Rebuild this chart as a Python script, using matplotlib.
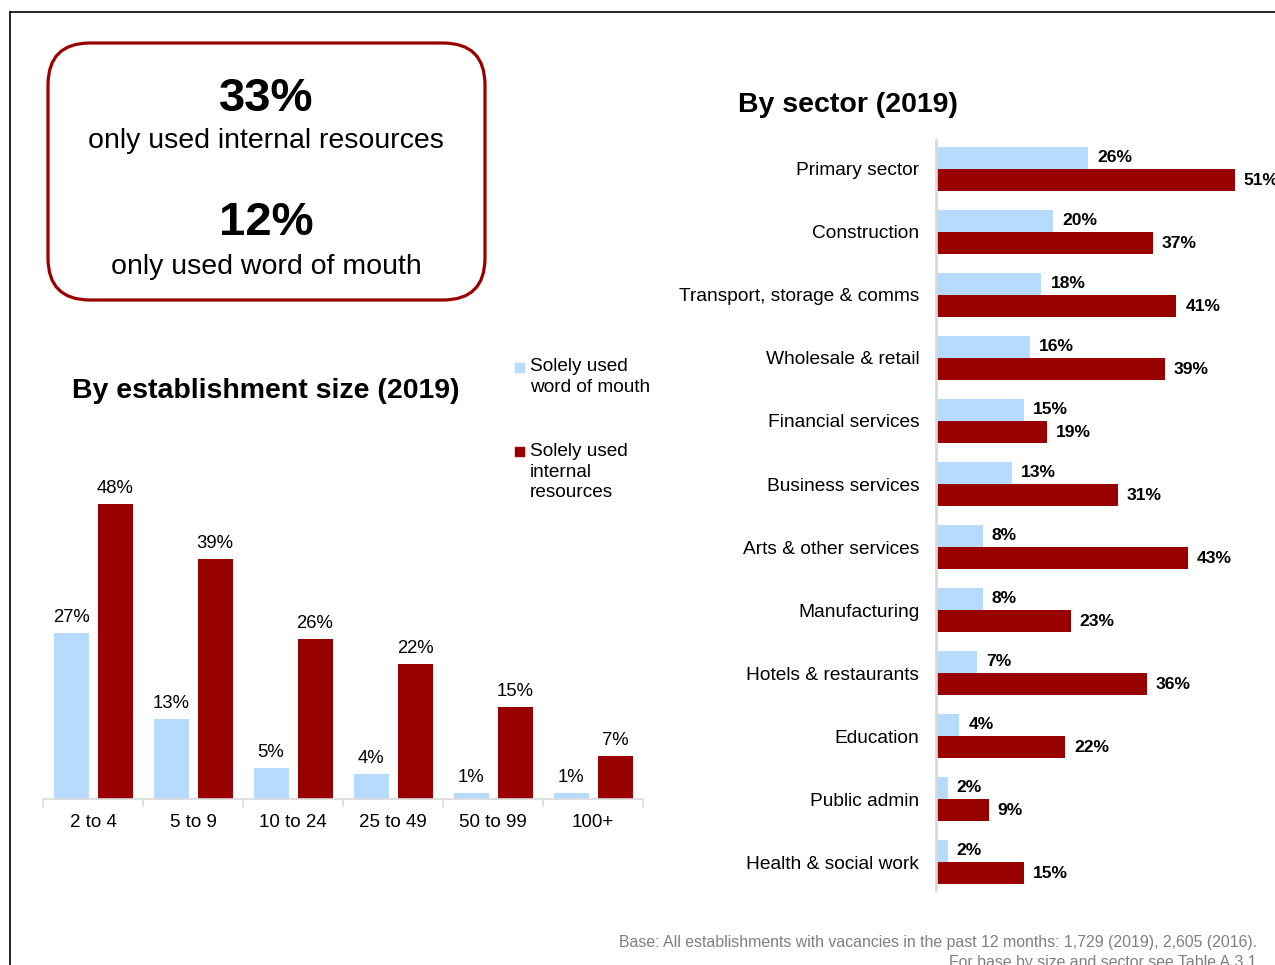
import numpy as np
import matplotlib
matplotlib.use("Agg")
import matplotlib.pyplot as plt
from matplotlib.patches import FancyBboxPatch, Rectangle
from matplotlib.lines import Line2D

plt.rcParams['font.family'] = ['Liberation Sans', 'DejaVu Sans']

# ---- data ----
size_cats = ["2 to 4", "5 to 9", "10 to 24", "25 to 49", "50 to 99", "100+"]
size_wom = [27, 13, 5, 4, 1, 1]
size_int = [48, 39, 26, 22, 15, 7]

sectors = ["Primary sector", "Construction", "Transport, storage & comms",
           "Wholesale & retail", "Financial services", "Business services",
           "Arts & other services", "Manufacturing", "Hotels & restaurants",
           "Education", "Public admin", "Health & social work"]
sector_wom = [26, 20, 18, 16, 15, 13, 8, 8, 7, 4, 2, 2]
sector_int = [51, 37, 41, 39, 19, 31, 43, 23, 36, 22, 9, 15]

headline_vals = ["33%", "12%"]
headline_txt = ["only used internal resources", "only used word of mouth"]

legend_labels = ["Solely used\nword of mouth", "Solely used\ninternal\nresources"]

BLUE = "#B7DBFF"
RED = "#990000"
GRAY_AX = "#D9D9D9"

W, H = 1275, 965
fig = plt.figure(figsize=(W / 100, H / 100), dpi=100)

def fx(px):
    return px / W

def fy(py):
    return 1 - py / H

# frame lines
fig.add_artist(Line2D([fx(10), 1.0], [fy(12), fy(12)], color="black", lw=1.2, transform=fig.transFigure))
fig.add_artist(Line2D([fx(10), fx(10)], [fy(12), 0.0], color="black", lw=1.2, transform=fig.transFigure))

# rounded headline box (in inches)
box = FancyBboxPatch((0.48, (H - 300) / 100), 4.37, 2.57,
                     boxstyle="round,pad=0,rounding_size=0.42",
                     transform=fig.dpi_scale_trans, fill=False,
                     edgecolor=RED, lw=2.3)
fig.add_artist(box)
fig.text(fx(266), fy(111), headline_vals[0], ha="center", va="baseline",
         fontsize=34, fontweight="bold")
fig.text(fx(266), fy(148), headline_txt[0], ha="center", va="baseline", fontsize=20.5)
fig.text(fx(266), fy(235), headline_vals[1], ha="center", va="baseline",
         fontsize=34, fontweight="bold")
fig.text(fx(266), fy(274), headline_txt[1], ha="center", va="baseline", fontsize=20.5)

# ---- left chart ----
axL = fig.add_axes([fx(43), (H - 799) / H, 600 / W, 338 / H])
x = np.arange(len(size_cats))
off = 0.22
bw = 0.35
b1 = axL.bar(x - off, size_wom, bw, color=BLUE)
b2 = axL.bar(x + off, size_int, bw, color=RED)
for rects, vals in ((b1, size_wom), (b2, size_int)):
    for r, v in zip(rects, vals):
        axL.annotate(f"{v}%", (r.get_x() + r.get_width() / 2, v),
                     xytext=(0, 5), textcoords="offset points",
                     ha="center", va="bottom", fontsize=13.3)
axL.set_xlim(-0.5, len(size_cats) - 0.5)
axL.set_ylim(0, 55)
for s in ("top", "right", "left"):
    axL.spines[s].set_visible(False)
axL.spines["bottom"].set_color(GRAY_AX)
axL.spines["bottom"].set_linewidth(1.2)
axL.set_yticks([])
axL.set_xticks(x)
axL.set_xticklabels(size_cats, fontsize=13.5)
axL.tick_params(axis="x", which="major", length=0, pad=11)
axL.set_xticks(np.arange(-0.5, len(size_cats)), minor=True)
axL.tick_params(axis="x", which="minor", length=6, color=GRAY_AX, width=1.2)
fig.text(fx(266), fy(398), "By establishment size (2019)", ha="center",
         va="baseline", fontsize=20.5, fontweight="bold")

# legend
fig.add_artist(Rectangle((fx(515), fy(372)), fx(9), 9 / H, color=BLUE, transform=fig.transFigure))
fig.add_artist(Rectangle((fx(515), fy(456)), fx(9), 9 / H, color=RED, transform=fig.transFigure))
fig.text(fx(530), fy(358), legend_labels[0], ha="left", va="top", fontsize=13.7, linespacing=1.27)
fig.text(fx(530), fy(443), legend_labels[1], ha="left", va="top", fontsize=13.7, linespacing=1.27)

# ---- right chart ----
axR = fig.add_axes([fx(936), (H - 890) / H, 339 / W, 750 / H])
y = np.arange(len(sectors))
offR = 0.178
bh = 0.35
r1 = axR.barh(y - offR, sector_wom, bh, color=BLUE)
r2 = axR.barh(y + offR, sector_int, bh, color=RED)
for rects, vals in ((r1, sector_wom), (r2, sector_int)):
    for r, v in zip(rects, vals):
        axR.annotate(f"{v}%", (v, r.get_y() + r.get_height() / 2),
                     xytext=(6.5, 0), textcoords="offset points",
                     ha="left", va="center", fontsize=12.6, fontweight="bold")
axR.set_xlim(0, 57.85)
axR.set_ylim(len(sectors) - 1 + 0.444, -0.46)
for s in ("top", "right", "bottom"):
    axR.spines[s].set_visible(False)
axR.spines["left"].set_color(GRAY_AX)
axR.spines["left"].set_linewidth(2)
axR.set_xticks([])
axR.set_yticks(y)
axR.set_yticklabels(sectors, fontsize=13.8)
axR.tick_params(axis="y", length=0, pad=12)
fig.text(fx(848), fy(112), "By sector (2019)", ha="center", va="baseline",
         fontsize=20.5, fontweight="bold")

# footnote
fig.text(fx(1257), fy(947), "Base: All establishments with vacancies in the past 12 months: 1,729 (2019), 2,605 (2016).",
         ha="right", va="baseline", fontsize=11.4, color="#7F7F7F")
fig.text(fx(1257), fy(967), "For base by size and sector see Table A.3.1",
         ha="right", va="baseline", fontsize=11.4, color="#7F7F7F")

fig.savefig("out.png", dpi=100)
